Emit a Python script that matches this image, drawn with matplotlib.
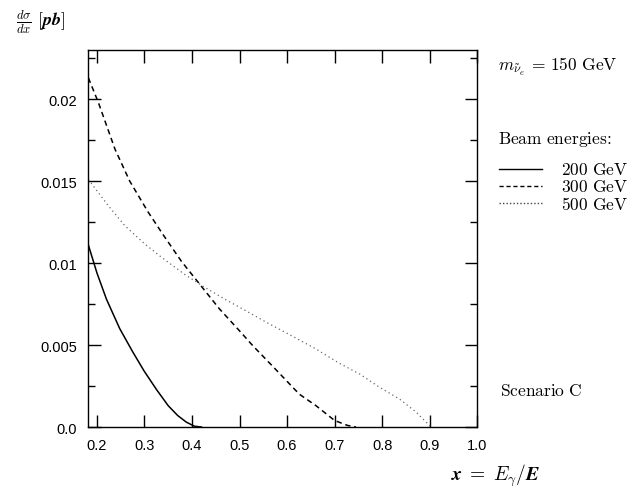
import matplotlib
matplotlib.use('Agg')
import matplotlib.pyplot as plt
from matplotlib.ticker import MultipleLocator, FixedLocator, FuncFormatter

plt.rcParams['mathtext.fontset'] = 'cm'
plt.rcParams['font.family'] = 'Liberation Sans'

# 200 GeV beam (solid)
x200 = [0.182, 0.200, 0.220, 0.248, 0.275, 0.299, 0.325, 0.350, 0.370, 0.388, 0.405, 0.420]
y200 = [0.0111, 0.0094, 0.0078, 0.0060, 0.0046, 0.00343, 0.0023, 0.0013, 0.00070, 0.0003, 0.00005, 0.0]

# 300 GeV beam (dashed)
x300 = [0.182, 0.203, 0.238, 0.269, 0.308, 0.340, 0.378, 0.416, 0.458, 0.500, 0.528,
        0.570, 0.626, 0.661, 0.700, 0.727, 0.745]
y300 = [0.0213, 0.0198, 0.01695, 0.0150, 0.0131, 0.0117, 0.0101, 0.00872, 0.0072, 0.00587, 0.00496,
        0.0037, 0.0020, 0.0013, 0.0004, 0.0001, 0.0]

# 500 GeV beam (dotted)
x500 = [0.182, 0.224, 0.259, 0.301, 0.336, 0.385, 0.427, 0.469, 0.511, 0.557, 0.616,
        0.661, 0.707, 0.753, 0.795, 0.837, 0.872, 0.903]
y500 = [0.0151, 0.0135, 0.01227, 0.01116, 0.01035, 0.0093, 0.00852, 0.0078, 0.00713, 0.00638, 0.00547,
        0.00476, 0.00394, 0.00323, 0.00242, 0.0017, 0.0009, 0.0]

fig = plt.figure(figsize=(6.37, 4.89), dpi=100)
ax = fig.add_axes([0.138, 0.1247, 0.611, 0.771])

ax.plot(x200, y200, color='black', lw=1.1, linestyle='-')
ax.plot(x300, y300, color='black', lw=1.1, linestyle=(0, (3.5, 2.5)))
ax.plot(x500, y500, color='#666666', lw=0.9, linestyle=(0, (1, 2.5)))

ax.set_xlim(0.181, 1.0)
ax.set_ylim(0.0, 0.0230)

ax.xaxis.set_major_locator(FixedLocator([0.2, 0.3, 0.4, 0.5, 0.6, 0.7, 0.8, 0.9, 1.0]))
ax.xaxis.set_major_formatter(FuncFormatter(lambda v, p: f'{v:.1f}'))
ax.yaxis.set_major_locator(FixedLocator([0.0, 0.005, 0.01, 0.015, 0.02]))
ax.yaxis.set_minor_locator(MultipleLocator(0.0025))
ylabels = {0.0: '0.0', 0.005: '0.005', 0.01: '0.01', 0.015: '0.015', 0.02: '0.02'}
ax.yaxis.set_major_formatter(FuncFormatter(lambda v, p: ylabels.get(round(v, 3), '')))

ax.tick_params(which='both', direction='in', top=True, right=True, width=1.0, labelsize=10.5, pad=8)
ax.tick_params(which='major', length=9)
ax.tick_params(which='minor', length=5)
for s in ax.spines.values():
    s.set_linewidth(1.0)

# labels
fig.text(0.025, 0.955, r'$\boldsymbol{\frac{d\sigma}{dx}}\ \boldsymbol{[pb]}$', fontsize=13,
         ha='left', va='center')
fig.text(0.848, 0.027, r'$\boldsymbol{x}\;=\;\boldsymbol{E_\gamma / E}$', fontsize=14,
         ha='right', va='center')

fig.text(0.782, 0.862, r'$m_{\tilde{\nu}_e}\,=\,\mathrm{150\ GeV}$', fontsize=12.5, ha='left', va='center')
fig.text(0.782, 0.714, r'$\mathrm{Beam\ energies}\!:$', fontsize=12.5, ha='left', va='center')

leg_y = [0.652, 0.617, 0.582]
leg_txt = [r'$\mathrm{200\ GeV}$', r'$\mathrm{300\ GeV}$', r'$\mathrm{500\ GeV}$']
leg_styles = [('-', 'black', 1.0), ((0, (3, 2)), 'black', 1.0), ((0, (1, 1.5)), '#444444', 1.0)]
for yy, tt, (ls, c, lw) in zip(leg_y, leg_txt, leg_styles):
    fig.add_artist(plt.Line2D([0.783, 0.851], [yy, yy], transform=fig.transFigure,
                              color=c, linestyle=ls, lw=lw))
    fig.text(0.880, yy, tt, fontsize=12.5, ha='left', va='center')

fig.text(0.785, 0.2, r'$\mathrm{Scenario\ C}$', fontsize=12.5, ha='left', va='center')

fig.savefig('out.png', dpi=100)
